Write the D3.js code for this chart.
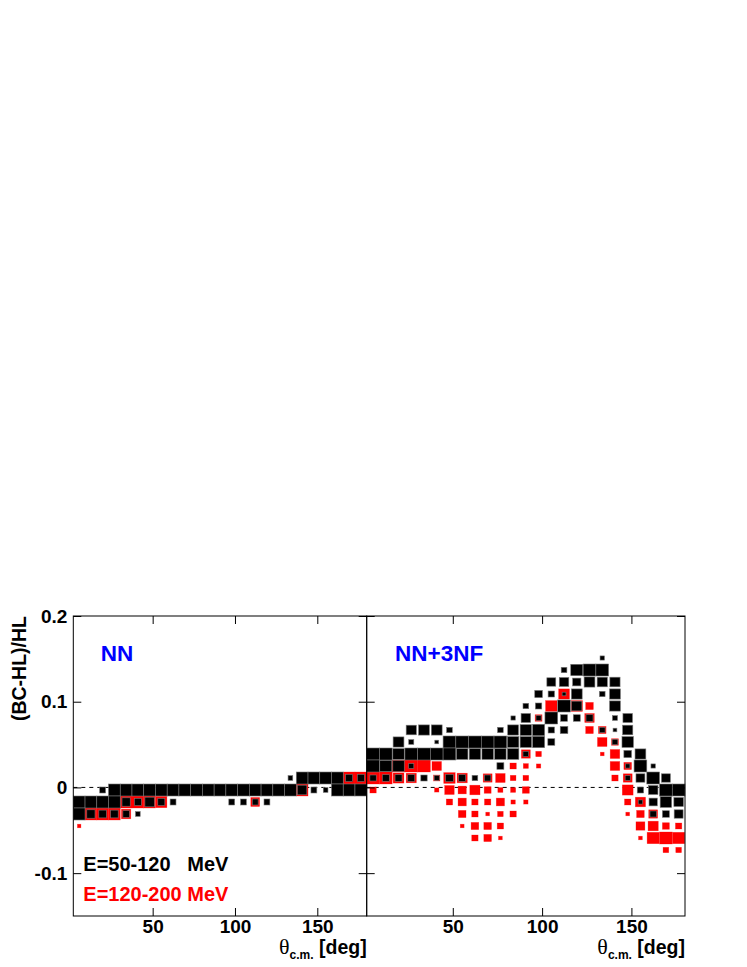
<!DOCTYPE html>
<html>
<head>
<meta charset="utf-8">
<script src="https://cdn.jsdelivr.net/npm/d3@7"></script>
<style>
body { margin: 0; background: #fff; }
text { font-family: "Liberation Sans", Arial, Helvetica, sans-serif; font-weight: bold; }
</style>
</head>
<body>
<svg width="747" height="967"></svg>
<script>
var thetaRange = [1.8, 180];
var ratioRange = [-0.15, 0.2];
var nBinsX = 25;
var nBinsY = 25;
var xTicks = [50, 100, 150];
var yTicks = [-0.1, 0, 0.1, 0.2];
var panelNames = ['NN', 'NN+3NF'];
var legendLabels = ['E=50-120   MeV', 'E=120-200 MeV'];
var yTitle = '(BC-HL)/HL';

// cells: [theta bin, ratio bin, content]
// E=50-120 MeV (black), NN
var nnLow = [
    [18,11,16],[19,11,100],[20,11,100],[21,11,100],[22,11,100],[23,11,36],[24,11,36],
    [2,10,25],[3,10,100],[4,10,100],[5,10,100],[6,10,100],[7,10,100],[8,10,100],[9,10,100],
    [10,10,100],[11,10,100],[12,10,100],[13,10,100],[14,10,100],[15,10,100],[16,10,100],
    [17,10,100],[18,10,100],[19,10,64],[20,10,25],[21,10,16],[22,10,100],[23,10,100],[24,10,100],
    [0,9,100],[1,9,100],[2,9,100],[3,9,100],[4,9,49],[5,9,36],[6,9,64],[7,9,36],[8,9,25],
    [13,9,25],[14,9,25],[15,9,25],[16,9,25],
    [0,8,100],[1,8,49],[2,8,42],[3,8,42],[4,8,30],[5,8,16]
];
// E=120-200 MeV (red), NN
var nnHigh = [
    [23,11,100],[24,11,100],[19,10,100],
    [4,9,100],[5,9,100],[6,9,100],[7,9,90],[15,9,56],
    [1,8,100],[2,8,100],[3,8,100],[4,8,64],[0,7,9]
];
// E=50-120 MeV (black), NN+3NF
var nn3nfLow = [
    [18,21,12],
    [15,20,20],[16,20,90],[17,20,100],[18,20,100],
    [14,19,49],[15,19,56],[16,19,42],[17,19,72],[18,19,64],[19,19,64],
    [13,18,36],[14,18,25],[15,18,9],[16,18,72],[18,18,20],[19,18,72],
    [12,17,20],[13,17,25],[15,17,100],[16,17,64],[19,17,72],
    [11,16,12],[12,16,56],[13,16,16],[14,16,100],[15,16,30],[16,16,30],[17,16,30],[19,16,16],[20,16,56],
    [3,15,64],[4,15,72],[5,15,72],[6,15,20],[10,15,20],[11,15,72],[12,15,81],[13,15,90],[14,15,25],
    [15,15,36],[18,15,20],[19,15,9],[20,15,64],
    [2,14,72],[3,14,16],[5,14,9],[6,14,100],[7,14,100],[8,14,100],[9,14,100],[10,14,100],[11,14,81],
    [12,14,81],[13,14,90],[14,14,30],[19,14,20],[20,14,81],
    [0,13,100],[1,13,100],[2,13,81],[3,13,100],[4,13,100],[5,13,100],[6,13,100],[7,13,81],[8,13,81],
    [9,13,81],[10,13,81],[11,13,81],[12,13,20],[20,13,36],[21,13,72],
    [0,12,100],[1,12,90],[2,12,81],[3,12,16],[10,12,30],[20,12,12],[21,12,100],[22,12,12],
    [0,11,25],[1,11,30],[2,11,30],[3,11,30],[4,11,25],[5,11,16],[6,11,36],[7,11,30],[8,11,20],[9,11,25],
    [20,11,16],[21,11,49],[22,11,100],[23,11,49],
    [21,10,25],[22,10,56],[23,10,100],[24,10,100],
    [21,9,12],[22,9,42],[23,9,81],[24,9,56],
    [22,8,25],[23,8,30],[24,8,49]
];
// E=120-200 MeV (red), NN+3NF
var nn3nfHigh = [
    [15,18,72],
    [14,17,81],[16,17,81],[17,17,36],
    [13,16,30],[17,16,56],
    [17,15,36],[18,15,36],
    [18,14,56],[19,14,30],
    [12,13,49],[13,13,20],[18,13,9],[19,13,56],
    [2,12,100],[3,12,100],[4,12,100],[5,12,56],[11,12,25],[12,12,16],[13,12,12],[19,12,56],[20,12,36],
    [0,11,100],[1,11,100],[2,11,72],[3,11,64],[5,11,25],[6,11,81],[7,11,64],[9,11,49],[10,11,56],
    [11,11,20],[12,11,20],[19,11,25],[20,11,49],
    [0,10,25],[5,10,12],[6,10,56],[7,10,42],[8,10,64],[9,10,30],[10,10,16],[11,10,16],[12,10,30],[20,10,72],
    [6,9,25],[7,9,42],[8,9,25],[9,9,25],[10,9,42],[11,9,12],[12,9,12],[20,9,25],[21,9,64],
    [7,8,36],[8,8,25],[9,8,9],[10,8,20],[11,8,25],[20,8,9],[21,8,36],[22,8,49],
    [7,7,9],[8,7,36],[9,7,36],[10,7,25],[21,7,49],[22,7,64],[23,7,30],[24,7,25],
    [8,6,25],[9,6,36],[10,6,9],[21,6,9],[22,6,90],[23,6,100],[24,6,90],
    [23,5,20],[24,5,20]
];

var svg = d3.select('svg');
var frameTop = 616;
var frameBottom = 916;
var tickLen = 8;

var panels = [
    {name: panelNames[0], left: 73.3, right: 366.7, low: nnLow, high: nnHigh},
    {name: panelNames[1], left: 366.7, right: 685, low: nn3nfLow, high: nn3nfHigh}
];

var y = d3.scaleLinear().domain(ratioRange).range([frameBottom, frameTop]);
var binW = (thetaRange[1] - thetaRange[0]) / nBinsX;
var binH = (ratioRange[1] - ratioRange[0]) / nBinsY;
var zMax = d3.max([nnLow, nnHigh, nn3nfLow, nn3nfHigh], s => d3.max(s, d => d[2]));

panels.forEach((p, i) => {
    var x = d3.scaleLinear().domain(thetaRange).range([p.left, p.right]);
    var g = svg.append('g');

    g.append('line')
        .attr('x1', p.left).attr('x2', p.right)
        .attr('y1', y(0)).attr('y2', y(0))
        .attr('stroke', '#000')
        .attr('stroke-dasharray', '4,4');

    drawBoxes(g, x, p.high, '#ff0000', 'rgba(255,0,0,0.45)');
    drawBoxes(g, x, p.low, '#000000', '#777');

    g.append('rect')
        .attr('x', p.left).attr('y', frameTop)
        .attr('width', p.right - p.left).attr('height', frameBottom - frameTop)
        .attr('fill', 'none').attr('stroke', '#000');

    var axL = g.append('g').attr('transform', `translate(${p.left},0)`)
        .call(d3.axisLeft(y).tickValues(yTicks).tickSize(-tickLen).tickPadding(6)
            .tickFormat(i === 0 ? String : ''));
    var axR = g.append('g').attr('transform', `translate(${p.right},0)`)
        .call(d3.axisRight(y).tickValues(yTicks).tickSize(-tickLen).tickFormat(''));
    var axB = g.append('g').attr('transform', `translate(0,${frameBottom})`)
        .call(d3.axisBottom(x).tickValues(xTicks).tickSize(-tickLen).tickPadding(3));
    var axT = g.append('g').attr('transform', `translate(0,${frameTop})`)
        .call(d3.axisTop(x).tickValues(xTicks).tickSize(-tickLen).tickFormat(''));

    [axL, axR, axB, axT].forEach(a => {
        a.select('.domain').remove();
        a.selectAll('line').attr('stroke', '#000');
        a.selectAll('text').style('font-size', '19px').attr('fill', '#000');
    });

    g.append('text')
        .attr('x', p.left + (i === 0 ? 27.4 : 28.3))
        .attr('y', 660.7)
        .attr('fill', '#0000ff')
        .style('font-size', '22.5px')
        .text(p.name);

    var xt = g.append('text')
        .attr('x', p.right)
        .attr('y', 954)
        .attr('text-anchor', 'end')
        .style('font-size', '19.5px');
    xt.append('tspan')
        .style('font-family', '"Liberation Serif", "Times New Roman", serif')
        .style('font-weight', 'normal')
        .style('font-size', '22px')
        .text('\u03b8');
    xt.append('tspan').attr('dy', 5).style('font-size', '12px').text('c.m.');
    xt.append('tspan').attr('dy', -5).attr('xml:space', 'preserve').text(' [deg]');
});

svg.append('text')
    .attr('transform', 'translate(26,616) rotate(-90)')
    .attr('text-anchor', 'end')
    .style('font-size', '19.5px')
    .text(yTitle);

svg.selectAll('.legend')
    .data(legendLabels)
    .enter()
    .append('text')
    .attr('class', 'legend')
    .attr('x', 83.3)
    .attr('y', (d, i) => 870.7 + i * 30)
    .attr('xml:space', 'preserve')
    .style('white-space', 'pre')
    .style('font-size', '20px')
    .attr('fill', (d, i) => i === 0 ? '#000' : '#ff0000')
    .text(d => d);

function drawBoxes(g, x, cells, fill, stroke) {
    var side = d => Math.sqrt(d[2] / zMax);
    var x0 = d => thetaRange[0] + (d[0] + 0.5 - side(d) / 2) * binW;
    var x1 = d => thetaRange[0] + (d[0] + 0.5 + side(d) / 2) * binW;
    var y0 = d => ratioRange[0] + (d[1] + 0.5 - side(d) / 2) * binH;
    var y1 = d => ratioRange[0] + (d[1] + 0.5 + side(d) / 2) * binH;

    g.selectAll(null)
        .data(cells)
        .enter()
        .append('rect')
        .attr('x', d => x(x0(d)))
        .attr('y', d => y(y1(d)))
        .attr('width', d => x(x1(d)) - x(x0(d)))
        .attr('height', d => y(y0(d)) - y(y1(d)))
        .attr('fill', fill)
        .attr('stroke', stroke)
        .attr('stroke-width', 0.6);
}
</script>
</body>
</html>
